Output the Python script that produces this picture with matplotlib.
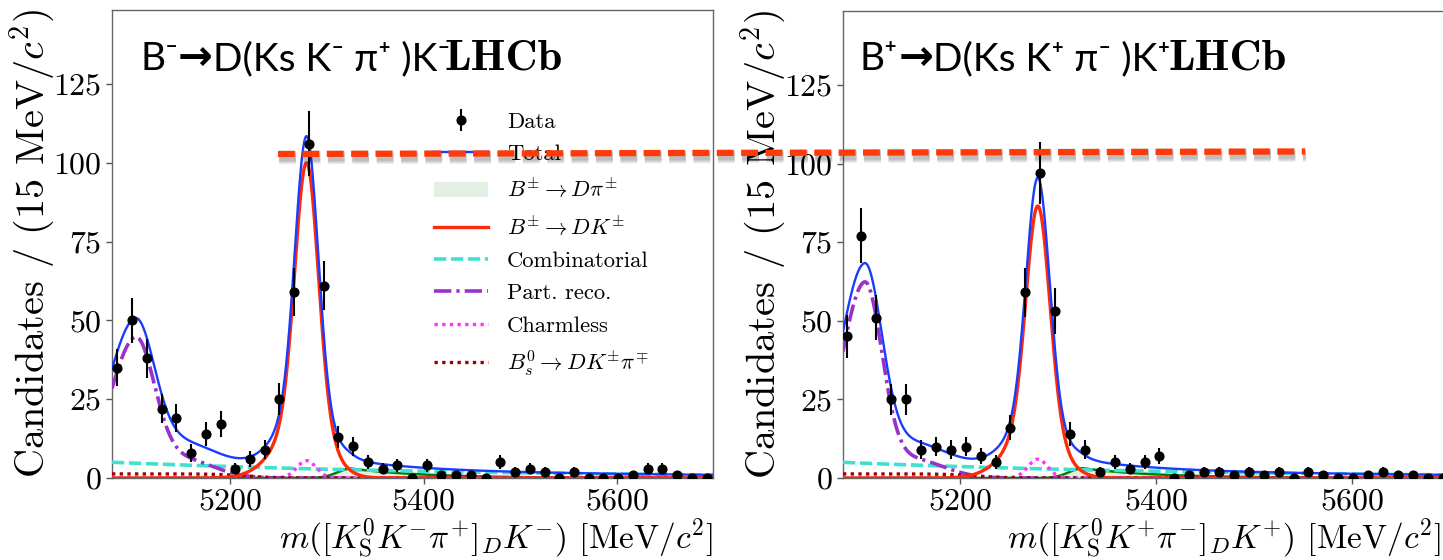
import numpy as np
import matplotlib
matplotlib.use('Agg')
import matplotlib.pyplot as plt
import matplotlib.patheffects as pe
from matplotlib.lines import Line2D
from matplotlib.offsetbox import TextArea, HPacker, AnnotationBbox

plt.rcParams['font.family'] = 'cmr10'
plt.rcParams['mathtext.fontset'] = 'cm'
plt.rcParams['axes.formatter.use_mathtext'] = True
plt.rcParams['axes.unicode_minus'] = False

W, H = 1443, 560

# binning of the invariant mass (15 MeV bins)
edges = np.linspace(5076, 5700, 42)
centres = 0.5 * (edges[1:] + edges[:-1])

# candidates per bin, B- and B+ samples
counts_minus = [35, 50, 38, 22, 19, 8, 14, 17, 3, 6, 9, 25, 59, 106, 61, 13, 10, 5, 3, 4, 0,
                4, 1, 1, 1, 0, 5, 2, 3, 2, 0, 2, 0, 0, 0, 1, 3, 3, 1, 0, 0]
counts_plus = [45, 77, 51, 25, 25, 9, 10, 9, 10, 7, 5, 16, 59, 97, 53, 14, 9, 2, 5, 3, 5,
               7, 0, 1, 2, 2, 1, 2, 1, 2, 0, 2, 1, 0, 0, 1, 2, 1, 1, 0, 0]

# fit components (peak heights in candidates / bin), [B-, B+]
sig_peak = [100.0, 86.5]
dpi_peak = [3.0, 3.1]
comb_start = [5.0, 5.0]
prc_peak = [42.8, 60.4]
prc_shoulder = [6.0, 6.0]
prc_sigma_lo = [26.0, 24.0]
prc_sigma_hi = [19.5, 17.5]
charmless_peak = [5.5, 6.0]
bs_level = [1.3, 1.3]

m_B = 5279.0
xlims = [(5078, 5699), (5080, 5700)]

blue = '#1a3cff'
red = '#ff2a0a'


def gauss(x, m, s):
    return np.exp(-0.5 * ((x - m) / s) ** 2)


def bifur(x, m, sl, sr):
    s = np.where(x < m, sl, sr)
    return np.exp(-0.5 * ((x - m) / s) ** 2)


def components(x, i):
    sig = sig_peak[i] * (0.8 * gauss(x, m_B, 12.0) + 0.2 * bifur(x, m_B, 28.0, 22.0))
    dpi = dpi_peak[i] * np.where(x < 5325, gauss(x, 5325, 14.0), np.exp(-(x - 5325) / 75.0))
    comb = comb_start[i] * np.exp(-(x - 5078) / 380.0)
    prc = prc_peak[i] * bifur(x, 5102, prc_sigma_lo[i], prc_sigma_hi[i]) + prc_shoulder[i] * gauss(x, 5150, 32.0)
    chl = charmless_peak[i] * gauss(x, m_B, 10.0)
    bs = bs_level[i] / (1 + np.exp((x - 5215) / 15.0))
    return sig, dpi, comb, prc, chl, bs


def draw(ax, counts, i, xlabel, legend):
    counts = np.array(counts, dtype=float)
    x = np.linspace(xlims[i][0], xlims[i][1], 1500)
    sig, dpi, comb, prc, chl, bs = components(x, i)
    total = sig + dpi + comb + prc + chl + bs

    ax.errorbar(centres, counts, yerr=np.sqrt(counts), fmt='o', color='k', ms=6.3,
                elinewidth=1.5, capsize=0, label='Data', zorder=6)
    ax.plot(x, total, color=blue, lw=1.7, label='Total', zorder=5)
    ax.fill_between(x, 0, dpi, facecolor='#e2efe2', edgecolor='none',
                    label=r'$B^{\pm} \to D\pi^{\pm}$', zorder=2)
    ax.plot(x, dpi, color='green', lw=1.8, zorder=3)
    ax.plot(x, sig, color=red, lw=2.4, label=r'$B^{\pm} \to DK^{\pm}$', zorder=4)
    ax.plot(x, comb, color='turquoise', lw=2.6, ls=(0, (3.4, 1.3)), label='Combinatorial', zorder=3)
    ax.plot(x, prc, color='darkorchid', lw=2.6, ls=(0, (4.8, 1.4, 0.9, 1.4)), label='Part. reco.', zorder=3)
    ax.plot(x, chl, color='#ff33ff', lw=2.4, ls=(0, (1, 1.3)), label='Charmless', zorder=3)
    ax.plot(x, bs, color='#a00000', lw=2.4, ls=(0, (1, 1.3)),
            label=r'$B^0_s \to DK^{\pm}\pi^{\mp}$', zorder=3)

    ax.set_xlim(*xlims[i])
    ax.set_ylim(0, 148.5)
    ax.set_xticks([5200, 5400, 5600])
    ax.set_yticks([0, 25, 50, 75, 100, 125])
    ax.tick_params(direction='out', length=4, width=1, labelsize=23, color='#555555')
    for s in ax.spines.values():
        s.set_color('#666666')
        s.set_linewidth(1)
    ax.set_ylabel('Candidates / (15 MeV/$c^2$)', fontsize=29, labelpad=-3)
    ax.set_xlabel(xlabel, fontsize=24, loc='right', labelpad=0)

    if legend:
        handles, labels = ax.get_legend_handles_labels()
        k = labels.index('Data')
        handles.insert(0, handles.pop(k))
        labels.insert(0, labels.pop(k))
        ax.legend(handles, labels, loc='upper left', bbox_to_anchor=(0.535, 0.782), frameon=False,
                  fontsize=16.3, handlelength=2.4, handletextpad=0.85, labelspacing=0.55,
                  borderpad=0, borderaxespad=0)


def title(x_px, y_px, first, rest):
    fam = ['Lato', 'DejaVu Sans']
    parts = [TextArea(first, textprops=dict(fontsize=28, family=fam)),
             TextArea('\u2192', textprops=dict(fontsize=30, family='DejaVu Sans', fontweight='bold')),
             TextArea(rest, textprops=dict(fontsize=28, family=fam))]
    pack = HPacker(children=parts, align='baseline', pad=0, sep=0)
    ab = AnnotationBbox(pack, (x_px / W, 1 - y_px / H), xycoords='figure fraction',
                        box_alignment=(0, 0.5), frameon=False, pad=0)
    fig.add_artist(ab)


fig = plt.figure(figsize=(W / 100, H / 100), dpi=100)

ax1 = fig.add_axes([112 / W, (H - 478) / H, 601 / W, 468 / H])
ax2 = fig.add_axes([843 / W, (H - 478) / H, 607 / W, 467 / H])

draw(ax1, counts_minus, 0, r'$m([K^0_{\rm S}K^{-}\pi^{+}]_D K^{-})$ [MeV/$c^2$]', True)
draw(ax2, counts_plus, 1, r'$m([K^0_{\rm S}K^{+}\pi^{-}]_D K^{+})$ [MeV/$c^2$]', False)
ax2.xaxis.label.set_x(0.985)

title(140, 58, 'B\u207b', 'D(Ks K\u207b \u03c0\u207a )K\u207b')
title(860, 58, 'B\u207a', 'D(Ks K\u207a \u03c0\u207b )K\u207a')
fig.text(444 / W, 1 - 70 / H, 'LHCb', fontsize=32, family='cmb10', ha='left', va='baseline')
fig.text(1168 / W, 1 - 70 / H, 'LHCb', fontsize=32, family='cmb10', ha='left', va='baseline')

# dashed marker line across both panels, with a soft shadow
shadow = [pe.SimpleLineShadow(offset=(0.8, -2.4), shadow_color='k', alpha=0.07, linewidth=w)
          for w in (10, 8.5, 7, 5.5)]
fig.add_artist(Line2D([278 / W, 1305 / W], [1 - 154 / H, 1 - 151.5 / H], transform=fig.transFigure,
                      color='#ff3a0a', lw=4.5, ls=(0, (2.7, 1.2)), zorder=20,
                      path_effects=shadow + [pe.Normal()]))

fig.savefig('out.png', dpi=100)
